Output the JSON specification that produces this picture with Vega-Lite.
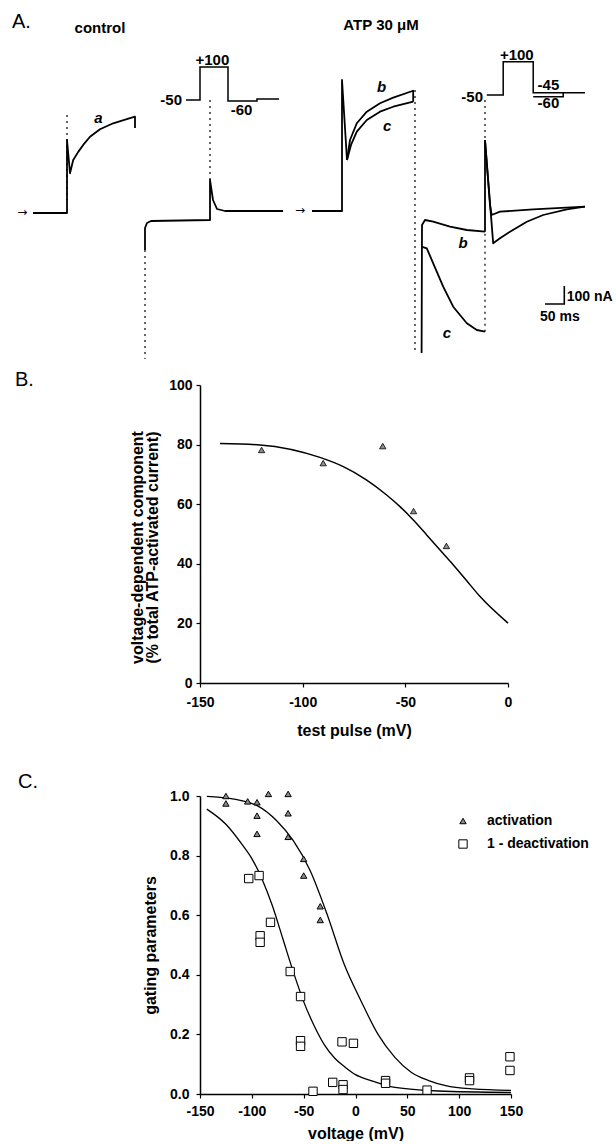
{
 "$schema": "https://vega.github.io/schema/vega-lite/v6.json",
 "background": "white",
 "padding": {"left": 12, "top": 0, "right": 0, "bottom": 0},
 "config": {
  "font": "Liberation Sans",
  "view": {"stroke": null},
  "axis": {"domainColor": "black", "domainWidth": 1.5, "tickColor": "black", "tickWidth": 1.2, "tickSize": 4, "labelFont": "Liberation Sans", "labelFontSize": 14, "labelFontWeight": "bold", "labelColor": "black", "titleFont": "Liberation Sans", "titleFontSize": 16, "titleFontWeight": "bold", "titleColor": "black", "grid": false, "labelPadding": 4, "labelFlush": false, "labelOverlap": false}
 },
 "datasets": {
  "traces": [
   {"seg":"ctl_a","k":1,"t":52.5,"i":-16.5},{"seg":"ctl_a","k":2,"t":137.5,"i":-16.5},{"seg":"ctl_a","k":3,"t":137.5,"i":385},{"seg":"ctl_a","k":4,"t":145,"i":202},{"seg":"ctl_a","k":5,"t":153,"i":275},{"seg":"ctl_a","k":6,"t":166,"i":321},{"seg":"ctl_a","k":7,"t":178,"i":358},{"seg":"ctl_a","k":8,"t":195,"i":403},{"seg":"ctl_a","k":9,"t":220,"i":444},{"seg":"ctl_a","k":10,"t":253,"i":477},{"seg":"ctl_a","k":11,"t":287,"i":500},{"seg":"ctl_a","k":12,"t":307.5,"i":513},{"seg":"ctl_a","k":13,"t":307.5,"i":451},
   {"seg":"ctl_tail","k":1,"t":332.5,"i":-220},{"seg":"ctl_tail","k":2,"t":332.5,"i":-99},{"seg":"ctl_tail","k":3,"t":337.5,"i":-71.5},{"seg":"ctl_tail","k":4,"t":347.5,"i":-60.5},{"seg":"ctl_tail","k":5,"t":495,"i":-55},{"seg":"ctl_tail","k":6,"t":495,"i":165},{"seg":"ctl_tail","k":7,"t":502.5,"i":55},{"seg":"ctl_tail","k":8,"t":512.5,"i":5.5},{"seg":"ctl_tail","k":9,"t":532.5,"i":-5.5},{"seg":"ctl_tail","k":10,"t":677.5,"i":-5.5},
   {"seg":"atp_base","k":1,"t":750,"i":-5.5},{"seg":"atp_base","k":2,"t":825,"i":-5.5},{"seg":"atp_base","k":3,"t":825,"i":715},{"seg":"atp_base","k":4,"t":837.5,"i":275},
   {"seg":"atp_b1","k":1,"t":837.5,"i":275},{"seg":"atp_b1","k":2,"t":845,"i":385},{"seg":"atp_b1","k":3,"t":862,"i":477},{"seg":"atp_b1","k":4,"t":887,"i":541},{"seg":"atp_b1","k":5,"t":920,"i":587},{"seg":"atp_b1","k":6,"t":953,"i":618},{"seg":"atp_b1","k":7,"t":1003,"i":656},{"seg":"atp_b1","k":8,"t":1003,"i":596},
   {"seg":"atp_c1","k":1,"t":837.5,"i":275},{"seg":"atp_c1","k":2,"t":847.5,"i":358},{"seg":"atp_c1","k":3,"t":862,"i":431},{"seg":"atp_c1","k":4,"t":887,"i":495},{"seg":"atp_c1","k":5,"t":920,"i":541},{"seg":"atp_c1","k":6,"t":953,"i":568},{"seg":"atp_c1","k":7,"t":1003,"i":596},
   {"seg":"atp_b2","k":1,"t":1024,"i":-786.5},{"seg":"atp_b2","k":2,"t":1025,"i":-82.5},{"seg":"atp_b2","k":3,"t":1032.5,"i":-55},{"seg":"atp_b2","k":4,"t":1053,"i":-64.4},{"seg":"atp_b2","k":5,"t":1095,"i":-91.9},{"seg":"atp_b2","k":6,"t":1137,"i":-110},{"seg":"atp_b2","k":7,"t":1182.5,"i":-119.4},
   {"seg":"atp_c2","k":1,"t":1024,"i":-202},{"seg":"atp_c2","k":2,"t":1037,"i":-210.7},{"seg":"atp_c2","k":3,"t":1053,"i":-293},{"seg":"atp_c2","k":4,"t":1078,"i":-421.9},{"seg":"atp_c2","k":5,"t":1103,"i":-531.9},{"seg":"atp_c2","k":6,"t":1137,"i":-623},{"seg":"atp_c2","k":7,"t":1162,"i":-660},{"seg":"atp_c2","k":8,"t":1182.5,"i":-669.4},
   {"seg":"atp_spike","k":1,"t":1182.5,"i":-119.4},{"seg":"atp_spike","k":2,"t":1182.5,"i":385},
   {"seg":"atp_b3","k":1,"t":1182.5,"i":385},{"seg":"atp_b3","k":2,"t":1195,"i":27.5},{"seg":"atp_b3","k":3,"t":1199,"i":-27.5},{"seg":"atp_b3","k":4,"t":1220,"i":-9.4},{"seg":"atp_b3","k":5,"t":1303,"i":3.9},{"seg":"atp_b3","k":6,"t":1432.5,"i":18.2},
   {"seg":"atp_c3","k":1,"t":1182.5,"i":385},{"seg":"atp_c3","k":2,"t":1203,"i":-183.2},{"seg":"atp_c3","k":3,"t":1220,"i":-155.7},{"seg":"atp_c3","k":4,"t":1245,"i":-119.4},{"seg":"atp_c3","k":5,"t":1287,"i":-64.4},{"seg":"atp_c3","k":6,"t":1328,"i":-27.5},{"seg":"atp_c3","k":7,"t":1387,"i":3.9},{"seg":"atp_c3","k":8,"t":1432.5,"i":18.2}
  ],
  "artifacts": [
   {"seg":"art1","k":1,"t":137.5,"i":522.5},{"seg":"art1","k":2,"t":137.5,"i":55},
   {"seg":"art2","k":1,"t":332.5,"i":-220},{"seg":"art2","k":2,"t":332.5,"i":-820},
   {"seg":"art3","k":1,"t":495,"i":605},{"seg":"art3","k":2,"t":495,"i":165},
   {"seg":"art4","k":1,"t":1007.5,"i":660},{"seg":"art4","k":2,"t":1007.5,"i":-786.5},
   {"seg":"art5","k":1,"t":1182.5,"i":605},{"seg":"art5","k":2,"t":1182.5,"i":385},
   {"seg":"art6","k":1,"t":1182.5,"i":-669.4},{"seg":"art6","k":2,"t":1182.5,"i":-119.4}
  ],
  "protocol": [
   {"seg":"ctl_v","k":1,"t":435,"i":605},{"seg":"ctl_v","k":2,"t":470,"i":605},{"seg":"ctl_v","k":3,"t":470,"i":786.5},{"seg":"ctl_v","k":4,"t":540,"i":786.5},{"seg":"ctl_v","k":5,"t":540,"i":599.5},{"seg":"ctl_v","k":6,"t":612.5,"i":599.5},{"seg":"ctl_v","k":7,"t":612.5,"i":610.5},{"seg":"ctl_v","k":8,"t":667.5,"i":610.5},
   {"seg":"atp_v45","k":1,"t":1187,"i":632.5},{"seg":"atp_v45","k":2,"t":1228,"i":632.5},{"seg":"atp_v45","k":3,"t":1228,"i":816},{"seg":"atp_v45","k":4,"t":1303,"i":816},{"seg":"atp_v45","k":5,"t":1303,"i":645},{"seg":"atp_v45","k":6,"t":1432.5,"i":645},
   {"seg":"atp_v60","k":1,"t":1303,"i":623},{"seg":"atp_v60","k":2,"t":1378,"i":623},{"seg":"atp_v60","k":3,"t":1378,"i":645}
  ],
  "scalebar": [
   {"k":1,"t":1332.5,"i":-517},{"k":2,"t":1380.75,"i":-517},{"k":3,"t":1380.75,"i":-418}
  ],
  "labelsA": [
   {"kind":"panel","text":"A.","t":0,"i":1034},
   {"kind":"condition","text":"control","t":220,"i":1001},
   {"kind":"condition","text":"ATP 30 μM","t":922.5,"i":1017.5},
   {"kind":"holding","text":"-50","t":425,"i":605},
   {"kind":"holding","text":"-50","t":1177.5,"i":621.5},
   {"kind":"step","text":"+100","t":501,"i":825},
   {"kind":"step","text":"-60","t":574,"i":550},
   {"kind":"step","text":"+100","t":1262,"i":852.5},
   {"kind":"step","text":"-45","t":1341,"i":687.5},
   {"kind":"step","text":"-60","t":1341,"i":587},
   {"kind":"trace","text":"a","t":216,"i":504},
   {"kind":"trace","text":"b","t":924,"i":675},
   {"kind":"trace","text":"c","t":938,"i":463.6},
   {"kind":"trace","text":"b","t":1128,"i":-183},
   {"kind":"trace","text":"c","t":1087,"i":-678},
   {"kind":"scale","text":"100 nA","t":1387,"i":-477},
   {"kind":"scale","text":"50 ms","t":1320,"i":-587},
   {"kind":"marker","text":"→","t":26,"i":-11},
   {"kind":"marker","text":"→","t":720,"i":0}
  ],
  "fitB": [
   {"v":-140.3,"pct":80.4},{"v":-120.8,"pct":79.9},{"v":-91.6,"pct":75.7},{"v":-80.2,"pct":72.6},{"v":-68.8,"pct":68.1},{"v":-59.1,"pct":63.1},{"v":-52.6,"pct":59.2},{"v":-46.1,"pct":54.7},{"v":-39.6,"pct":49.7},{"v":-33.1,"pct":44.6},{"v":-26.6,"pct":39.6},{"v":-20.1,"pct":34.3},{"v":-13.6,"pct":29.0},{"v":0,"pct":20.1}
  ],
  "pointsB": [
   {"v":-120,"pct":78.2},{"v":-90,"pct":73.8},{"v":-61,"pct":79.5},{"v":-46,"pct":57.7},{"v":-30,"pct":46.0}
  ],
  "fitC": [
   {"series":"activation","v":-143.4,"g":0.999},{"series":"activation","v":-109,"g":0.984},{"series":"activation","v":-94.4,"g":0.967},{"series":"activation","v":-76,"g":0.917},{"series":"activation","v":-60,"g":0.85},{"series":"activation","v":-43.8,"g":0.75},{"series":"activation","v":-27.5,"g":0.604},{"series":"activation","v":-11,"g":0.436},{"series":"activation","v":5.2,"g":0.313},{"series":"activation","v":21.6,"g":0.201},{"series":"activation","v":38,"g":0.123},{"series":"activation","v":54,"g":0.072},{"series":"activation","v":70.6,"g":0.045},{"series":"activation","v":87,"g":0.028},{"series":"activation","v":113,"g":0.017},{"series":"activation","v":150,"g":0.012},
   {"series":"1 - deactivation","v":-143.4,"g":0.956},{"series":"1 - deactivation","v":-125,"g":0.905},{"series":"1 - deactivation","v":-110,"g":0.84},{"series":"1 - deactivation","v":-100,"g":0.79},{"series":"1 - deactivation","v":-90,"g":0.72},{"series":"1 - deactivation","v":-80,"g":0.63},{"series":"1 - deactivation","v":-70,"g":0.52},{"series":"1 - deactivation","v":-60,"g":0.41},{"series":"1 - deactivation","v":-50,"g":0.31},{"series":"1 - deactivation","v":-40,"g":0.23},{"series":"1 - deactivation","v":-30,"g":0.165},{"series":"1 - deactivation","v":-20,"g":0.12},{"series":"1 - deactivation","v":-10,"g":0.09},{"series":"1 - deactivation","v":0,"g":0.065},{"series":"1 - deactivation","v":15,"g":0.045},{"series":"1 - deactivation","v":38,"g":0.022},{"series":"1 - deactivation","v":80,"g":0.01},{"series":"1 - deactivation","v":150,"g":0.005}
  ],
  "pointsC": [
   {"series":"activation","v":-125,"g":1.0},{"series":"activation","v":-125,"g":0.975},{"series":"activation","v":-104,"g":0.982},{"series":"activation","v":-95,"g":0.979},{"series":"activation","v":-95,"g":0.934},{"series":"activation","v":-95,"g":0.873},{"series":"activation","v":-84,"g":1.007},{"series":"activation","v":-65,"g":1.007},{"series":"activation","v":-65,"g":0.942},{"series":"activation","v":-65,"g":0.863},{"series":"activation","v":-50,"g":0.789},{"series":"activation","v":-50,"g":0.733},{"series":"activation","v":-34,"g":0.63},{"series":"activation","v":-34,"g":0.584},
   {"series":"1 - deactivation","v":-103,"g":0.723},{"series":"1 - deactivation","v":-93,"g":0.733},{"series":"1 - deactivation","v":-92,"g":0.531},{"series":"1 - deactivation","v":-92,"g":0.509},{"series":"1 - deactivation","v":-82,"g":0.576},{"series":"1 - deactivation","v":-63,"g":0.411},{"series":"1 - deactivation","v":-53,"g":0.327},{"series":"1 - deactivation","v":-53,"g":0.179},{"series":"1 - deactivation","v":-53,"g":0.16},{"series":"1 - deactivation","v":-41,"g":0.009},{"series":"1 - deactivation","v":-22,"g":0.039},{"series":"1 - deactivation","v":-13,"g":0.175},{"series":"1 - deactivation","v":-12,"g":0.031},{"series":"1 - deactivation","v":-12,"g":0.015},{"series":"1 - deactivation","v":-2,"g":0.17},{"series":"1 - deactivation","v":29,"g":0.045},{"series":"1 - deactivation","v":29,"g":0.036},{"series":"1 - deactivation","v":69,"g":0.013},{"series":"1 - deactivation","v":110,"g":0.054},{"series":"1 - deactivation","v":110,"g":0.045},{"series":"1 - deactivation","v":149,"g":0.125},{"series":"1 - deactivation","v":149,"g":0.079}
  ]
 },
 "resolve": {"legend": {"shape": "independent", "fill": "independent", "size": "independent", "stroke": "independent"}},
 "vconcat": [
  {
   "vconcat": [
    {
     "width": 416,
     "height": 360,
     "encoding": {
      "x": {"field": "t", "type": "quantitative", "scale": {"domain": [470, 1510], "nice": false, "zero": false}, "axis": null},
      "y": {"field": "i", "type": "quantitative", "scale": {"domain": [-825, 1155], "nice": false, "zero": false}, "axis": null}
     },
     "layer": [
      {"data": {"name": "traces"}, "mark": {"type": "line", "color": "black", "strokeWidth": 1.8, "strokeJoin": "round", "clip": false}, "encoding": {"detail": {"field": "seg"}, "order": {"field": "k"}}},
      {"data": {"name": "artifacts"}, "mark": {"type": "line", "color": "black", "strokeWidth": 1.2, "strokeDash": [2, 4], "clip": false}, "encoding": {"detail": {"field": "seg"}, "order": {"field": "k"}}},
      {"data": {"name": "protocol"}, "mark": {"type": "line", "color": "black", "strokeWidth": 1.5, "clip": false}, "encoding": {"detail": {"field": "seg"}, "order": {"field": "k"}}},
      {"data": {"name": "scalebar"}, "mark": {"type": "line", "color": "black", "strokeWidth": 1.6, "clip": false}, "encoding": {"order": {"field": "k"}}},
      {"data": {"name": "labelsA"}, "transform": [{"filter": "datum.kind === 'panel'"}], "mark": {"type": "text", "align": "left", "baseline": "middle", "fontSize": 20, "color": "black", "clip": false}, "encoding": {"text": {"field": "text"}}},
      {"data": {"name": "labelsA"}, "transform": [{"filter": "datum.kind === 'condition'"}], "mark": {"type": "text", "align": "center", "baseline": "middle", "fontSize": 15, "fontWeight": "bold", "color": "black", "clip": false}, "encoding": {"text": {"field": "text"}}},
      {"data": {"name": "labelsA"}, "transform": [{"filter": "datum.kind === 'holding'"}], "mark": {"type": "text", "align": "right", "baseline": "middle", "fontSize": 15, "fontWeight": "bold", "color": "black", "clip": false}, "encoding": {"text": {"field": "text"}}},
      {"data": {"name": "labelsA"}, "transform": [{"filter": "datum.kind === 'step'"}], "mark": {"type": "text", "align": "center", "baseline": "middle", "fontSize": 15, "fontWeight": "bold", "color": "black", "clip": false}, "encoding": {"text": {"field": "text"}}},
      {"data": {"name": "labelsA"}, "transform": [{"filter": "datum.kind === 'trace'"}], "mark": {"type": "text", "align": "center", "baseline": "middle", "fontSize": 15, "fontWeight": "bold", "fontStyle": "italic", "color": "black", "clip": false}, "encoding": {"text": {"field": "text"}}},
      {"data": {"name": "labelsA"}, "transform": [{"filter": "datum.kind === 'scale'"}], "mark": {"type": "text", "align": "left", "baseline": "middle", "fontSize": 14, "fontWeight": "bold", "color": "black", "clip": false}, "encoding": {"text": {"field": "text"}}},
      {"data": {"name": "labelsA"}, "transform": [{"filter": "datum.kind === 'marker'"}], "mark": {"type": "text", "align": "center", "baseline": "middle", "fontSize": 12, "font": "DejaVu Sans", "color": "black", "clip": false}, "encoding": {"text": {"field": "text"}}}
     ]
    },
    {
     "width": 308,
     "height": 298,
     "title": {"text": "B.", "anchor": "start", "frame": "group", "dx": -185, "dy": 28, "offset": 0, "fontSize": 20, "fontWeight": "normal", "baseline": "alphabetic", "color": "black", "font": "Liberation Sans"},
     "encoding": {
      "x": {"field": "v", "type": "quantitative", "scale": {"domain": [-150, 0], "nice": false}, "axis": {"values": [-150, -100, -50, 0], "labelExpr": "datum.value < 0 ? '-' + abs(datum.value) : '' + datum.value", "title": "test pulse (mV)", "labelPadding": 8, "titlePadding": 13}},
      "y": {"field": "pct", "type": "quantitative", "scale": {"domain": [0, 100], "nice": false}, "axis": {"values": [0, 20, 40, 60, 80, 100], "title": ["voltage-dependent component", "(% total ATP-activated current)"], "titlePadding": 8, "titleLineHeight": 15.5, "titleY": 162}}
     },
     "layer": [
      {"data": {"name": "fitB"}, "mark": {"type": "line", "color": "black", "strokeWidth": 1.5, "interpolate": "monotone"}},
      {"data": {"name": "pointsB"}, "mark": {"type": "point", "shape": "triangle-up", "filled": true, "fill": "#8c8c8c", "stroke": "black", "strokeWidth": 0.8, "size": 40, "opacity": 1}}
     ]
    }
   ],
   "spacing": 8
  },
  {
   "width": 311,
   "height": 298,
   "title": {"text": "C.", "anchor": "start", "frame": "group", "dx": -182, "dy": 19, "offset": 0, "fontSize": 20, "fontWeight": "normal", "baseline": "alphabetic", "color": "black", "font": "Liberation Sans"},
   "encoding": {
    "x": {"field": "v", "type": "quantitative", "scale": {"domain": [-150, 150], "nice": false}, "axis": {"values": [-150, -100, -50, 0, 50, 100, 150], "labelExpr": "datum.value < 0 ? '-' + abs(datum.value) : '' + datum.value", "title": "voltage (mV)", "labelPadding": 6, "titlePadding": 7}},
    "y": {"field": "g", "type": "quantitative", "scale": {"domain": [0, 1], "nice": false}, "axis": {"values": [0, 0.2, 0.4, 0.6, 0.8, 1], "format": ".1f", "title": "gating parameters", "labelPadding": 7, "titlePadding": 11}}
   },
   "layer": [
    {"data": {"name": "fitC"}, "mark": {"type": "line", "color": "black", "strokeWidth": 1.3, "interpolate": "monotone"}, "encoding": {"detail": {"field": "series"}}},
    {"data": {"name": "pointsC"}, "mark": {"type": "point", "filled": true, "opacity": 1, "strokeWidth": 1},
     "encoding": {
      "stroke": {"field": "series", "type": "nominal", "scale": {"domain": ["activation", "1 - deactivation"], "range": ["black", "black"]}, "legend": {"title": null, "orient": "none", "legendX": 256, "legendY": 18, "labelFontSize": 14, "labelFontWeight": "bold", "labelColor": "black", "labelFont": "Liberation Sans", "rowPadding": 9, "labelOffset": 17, "padding": 0, "symbolStrokeWidth": 1}},
      "shape": {"field": "series", "type": "nominal", "scale": {"domain": ["activation", "1 - deactivation"], "range": ["triangle-up", "square"]}, "legend": {"title": null, "orient": "none", "legendX": 256, "legendY": 18, "labelFontSize": 14, "labelFontWeight": "bold", "labelColor": "black", "labelFont": "Liberation Sans", "rowPadding": 9, "labelOffset": 17, "padding": 0, "symbolStrokeWidth": 1}},
      "fill": {"field": "series", "type": "nominal", "scale": {"domain": ["activation", "1 - deactivation"], "range": ["#8c8c8c", "white"]}, "legend": {"title": null, "orient": "none", "legendX": 256, "legendY": 18, "labelFontSize": 14, "labelFontWeight": "bold", "labelColor": "black", "labelFont": "Liberation Sans", "rowPadding": 9, "labelOffset": 17, "padding": 0, "symbolStrokeWidth": 1}},
      "size": {"field": "series", "type": "nominal", "scale": {"domain": ["activation", "1 - deactivation"], "range": [40, 70]}, "legend": {"title": null, "orient": "none", "legendX": 256, "legendY": 18, "labelFontSize": 14, "labelFontWeight": "bold", "labelColor": "black", "labelFont": "Liberation Sans", "rowPadding": 9, "labelOffset": 17, "padding": 0, "symbolStrokeWidth": 1}}
     }}
   ]
  }
 ],
 "spacing": 34
}
